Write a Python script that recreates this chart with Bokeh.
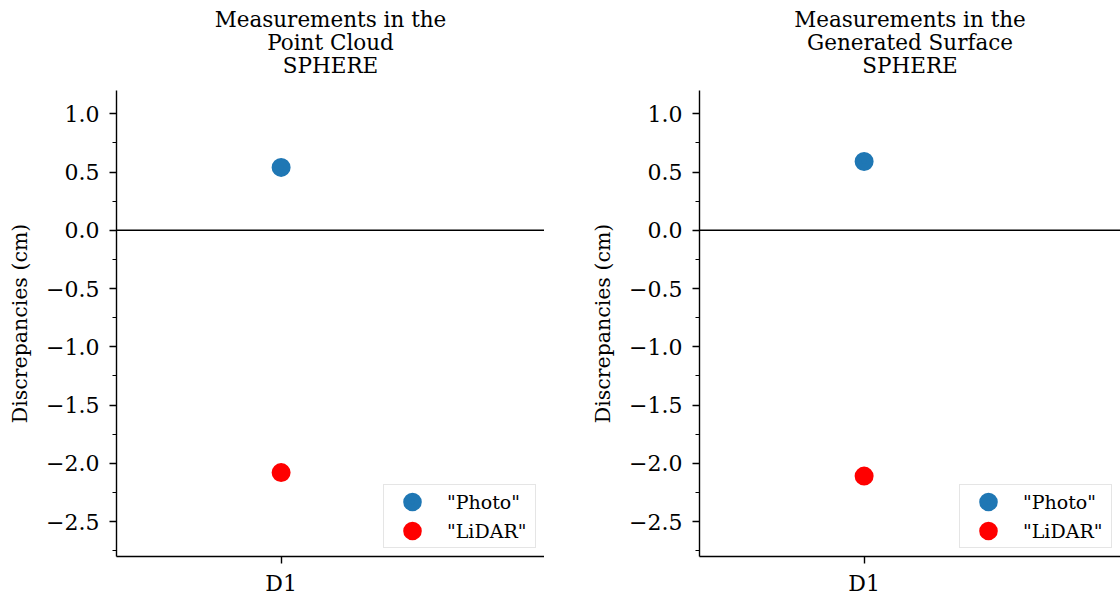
from bokeh.plotting import figure
from bokeh.models import (ColumnDataSource, FixedTicker, Span, Legend,
                          LegendItem, Range1d, Title)
from bokeh.layouts import row
from bokeh.embed import file_html
from bokeh.resources import INLINE

# ---- data -------------------------------------------------------------
categories = ["D1"]
photo_cloud = [0.54]
lidar_cloud = [-2.08]
photo_surface = [0.59]
lidar_surface = [-2.11]

y_ticks = [-2.5, -2.0, -1.5, -1.0, -0.5, 0.0, 0.5, 1.0]
y_minor = [-2.75, -2.25, -1.75, -1.25, -0.75, -0.25, 0.25, 0.75]
titles = [["Measurements in the", "Point Cloud", "SPHERE"],
          ["Measurements in the", "Generated Surface", "SPHERE"]]
series_names = ['"Photo"', '"LiDAR"']
series_colors = ["#1f77b4", "#ff0000"]

FONT = "DejaVu Serif"
PX_PER_UNIT = 428 / 1.3  # horizontal data scale shared by both panels


def tick_label(v):
    s = f"{v:.1f}"
    return s.replace("-", "\u2212")


def make_panel(title_lines, photo, lidar, border_left, frame_w, title_shift):
    x_pos = list(range(len(categories)))
    x_end = -0.5 + frame_w / PX_PER_UNIT
    p = figure(width=border_left + frame_w, height=598, title=None,
               x_range=Range1d(-0.5, x_end), y_range=Range1d(-2.8, 1.2),
               min_border_left=border_left, min_border_right=0,
               min_border_top=90, min_border_bottom=40,
               output_backend="svg", toolbar_location=None,
               background_fill_color="white", border_fill_color="white",
               outline_line_color=None)
    p.grid.visible = False

    # heading: a thin gap above the frame, then three centred lines stacked
    # upward (the last line sits closest to the frame)
    p.add_layout(Title(text=" ", text_font_size="8px", standoff=2.5), "above")
    for line in reversed(title_lines):
        p.add_layout(Title(text=line, align="center", text_font=FONT,
                           text_font_style="normal", text_font_size="21.5px",
                           text_color="black", offset=title_shift,
                           standoff=-3.9), "above")

    # zero reference line
    p.add_layout(Span(location=0, dimension="width", line_color="black",
                      line_width=1.4))

    src_p = ColumnDataSource(dict(x=x_pos, y=photo))
    src_l = ColumnDataSource(dict(x=x_pos, y=lidar))
    r_p = p.scatter("x", "y", source=src_p, size=12, line_width=7,
                    fill_color=series_colors[0], line_color=series_colors[0])
    r_l = p.scatter("x", "y", source=src_l, size=12, line_width=7,
                    fill_color=series_colors[1], line_color=series_colors[1])

    # axes
    xa = p.xaxis[0]
    xa.ticker = FixedTicker(ticks=x_pos, minor_ticks=[])
    xa.major_label_overrides = {float(i): c for i, c in zip(x_pos, categories)}
    ya = p.yaxis[0]
    ya.ticker = FixedTicker(ticks=y_ticks, minor_ticks=y_minor)
    ya.major_label_overrides = {v: tick_label(v) for v in y_ticks}
    ya.axis_label = "Discrepancies (cm)"
    ya.axis_label_text_font = FONT
    ya.axis_label_text_font_style = "normal"
    ya.axis_label_text_font_size = "20.5px"
    ya.axis_label_text_color = "black"
    ya.axis_label_standoff = 11
    for ax in (xa, ya):
        ax.axis_line_color = "black"
        ax.axis_line_width = 1.4
        ax.major_tick_line_color = "black"
        ax.major_tick_line_width = 1.4
        ax.major_tick_out = 7
        ax.major_tick_in = 0
        ax.minor_tick_line_color = "black"
        ax.minor_tick_line_width = 1.2
        ax.minor_tick_out = 4
        ax.minor_tick_in = 0
        ax.major_label_text_font = FONT
        ax.major_label_text_font_size = "22px"
        ax.major_label_text_color = "black"
    ya.major_label_standoff = 10
    xa.major_label_standoff = 7

    legend = Legend(items=[LegendItem(label=series_names[0], renderers=[r_p]),
                           LegendItem(label=series_names[1], renderers=[r_l])],
                    location="bottom_right", margin=8, padding=2, spacing=0,
                    glyph_width=52, glyph_height=29, label_standoff=9,
                    label_width=86, label_text_font=FONT,
                    label_text_font_size="19px", label_text_color="black",
                    border_line_color="#cccccc", border_line_width=1.5,
                    background_fill_alpha=0.8)
    p.add_layout(legend)
    return p


left = make_panel(titles[0], photo_cloud, lidar_cloud, 116, 428, 1)
right = make_panel(titles[1], photo_surface, lidar_surface, 155, 421, 3)

layout = row(left, right, spacing=0)
open("out.html", "w").write(file_html(layout, INLINE))
